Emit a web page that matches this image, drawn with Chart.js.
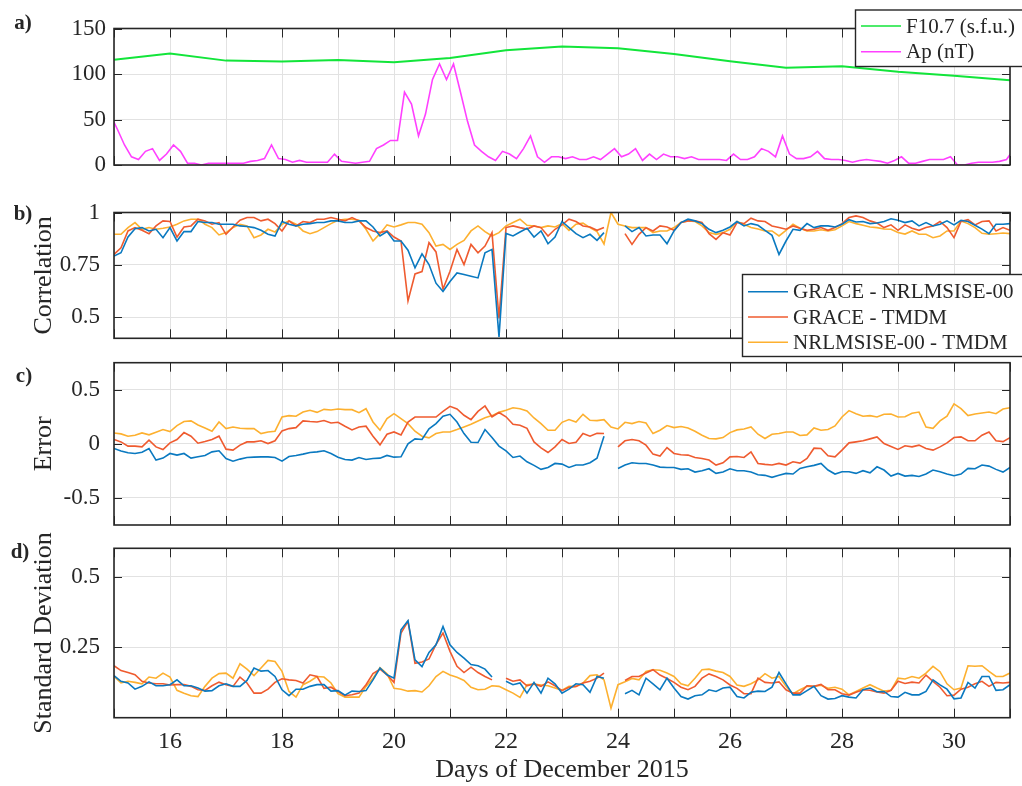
<!DOCTYPE html>
<html>
<head>
<meta charset="utf-8">
<title>Thermospheric density comparison, December 2015</title>
<script src="https://cdn.jsdelivr.net/npm/chart.js@4.4.1/dist/chart.umd.min.js"></script>
<style>
  html, body { margin: 0; padding: 0; background: #ffffff; }
  #wrap { position: relative; width: 1022px; height: 786px; overflow: hidden; background: #ffffff; }
  #wrap canvas { position: absolute; left: 0; top: 0; }
</style>
</head>
<body>
<div id="wrap">
  <canvas id="panelA" width="1022" height="786"></canvas>
  <canvas id="panelB" width="1022" height="786"></canvas>
  <canvas id="panelC" width="1022" height="786"></canvas>
  <canvas id="panelD" width="1022" height="786"></canvas>
</div>
<script>
// ---------- data ----------
// Daily solar flux F10.7 (s.f.u.), one value per day 15..31
const f107Days = [15, 16, 17, 18, 19, 20, 21, 22, 23, 24, 25, 26, 27, 28, 29, 30, 31];
const f107Values = [115.6, 122.4, 114.7, 113.6, 115.4, 112.9, 117.6, 126.1, 130.1, 128.3, 122.1, 114.0, 107.0, 108.5, 102.6, 98.2, 93.0];

// 3-hourly Ap index (nT), first sample at 14.9375 then every 1/8 day
const apStart = 14.9375;
const apValues = [
  55, 39, 22, 9, 6, 15, 18, 5, 12, 22,
  15, 2, 2, 0, 2, 2, 2, 2, 2, 2,
  4, 5, 7, 22, 7, 6, 3, 5, 3, 3,
  3, 3, 12, 4, 3, 2, 3, 4, 18, 22,
  27, 27, 80, 67, 32, 56, 94, 111, 94, 111,
  80, 48, 22, 15, 9, 5, 15, 12, 7, 18,
  32, 9, 3, 9, 9, 7, 9, 6, 6, 9,
  6, 12, 18, 9, 12, 18, 5, 12, 6, 12,
  9, 9, 7, 9, 6, 6, 6, 6, 5, 12,
  6, 6, 9, 18, 15, 9, 32, 12, 7, 7,
  9, 15, 7, 6, 6, 5, 3, 5, 6, 5,
  4, 2, 5, 9, 2, 2, 4, 6, 6, 6,
  9, 0, 0, 2, 3, 3, 3, 4, 6, 17
];

// Comparison series share one time base: day 15.0 to 31.0 every 1/8 day (129 samples)
const seriesStart = 15;
const seriesStep = 1 / 8;

// b) Correlation
const corrGraceNrl = [
  0.792, 0.808, 0.883, 0.923, 0.928, 0.912, 0.92, 0.88, 0.928, 0.864,
  0.909, 0.909, 0.957, 0.952, 0.952, 0.944, 0.944, 0.944, 0.936, 0.933,
  0.928, 0.915, 0.896, 0.888, 0.957, 0.944, 0.936, 0.944, 0.947, 0.952,
  0.952, 0.96, 0.96, 0.952, 0.952, 0.96, 0.96, 0.931, 0.888, 0.909,
  0.864, 0.864, 0.82, 0.736, 0.803, 0.752, 0.663, 0.623, 0.671, 0.712,
  0.704, 0.696, 0.688, 0.808, 0.824, 0.407, 0.90, 0.888, 0.907, 0.925,
  0.883, 0.912, 0.851, 0.883, 0.957, 0.928, 0.899, 0.88, 0.896, 0.867,
  0.904, null, null, 0.936, 0.909, 0.928, 0.888, 0.893, 0.893, 0.851,
  0.912, 0.952, 0.968, 0.96, 0.947, 0.92, 0.904, 0.915, 0.931, 0.957,
  0.936, 0.947, 0.939, 0.915, 0.891, 0.80, 0.864, 0.92, 0.915, 0.947,
  0.928, 0.936, 0.936, 0.931, 0.944, 0.966, 0.955, 0.957, 0.947, 0.95,
  0.957, 0.97, 0.963, 0.952, 0.96, 0.936, 0.952, 0.936, 0.944, 0.96,
  0.941, 0.963, 0.957, 0.939, 0.921, 0.899, 0.944, 0.944, 0.947
];
const corrGraceTmdm = [
  0.80, 0.832, 0.912, 0.928, 0.915, 0.899, 0.936, 0.96, 0.957, 0.883,
  0.931, 0.936, 0.968, 0.96, 0.944, 0.952, 0.896, 0.931, 0.963, 0.976,
  0.976, 0.96, 0.968, 0.947, 0.912, 0.96, 0.936, 0.957, 0.952, 0.968,
  0.968, 0.976, 0.968, 0.96, 0.976, 0.96, 0.928, 0.912, 0.904, 0.912,
  0.883, 0.864, 0.578, 0.707, 0.718, 0.856, 0.812, 0.635, 0.72, 0.824,
  0.752, 0.848, 0.808, 0.84, 0.904, 0.495, 0.928, 0.936, 0.928, 0.921,
  0.936, 0.928, 0.888, 0.92, 0.941, 0.968, 0.957, 0.936, 0.931, 0.915,
  0.928, null, null, 0.899, 0.848, 0.896, 0.928, 0.912, 0.936, 0.931,
  0.915, 0.952, 0.96, 0.96, 0.952, 0.899, 0.872, 0.904, 0.893, 0.952,
  0.947, 0.973, 0.96, 0.957, 0.936, 0.928, 0.92, 0.936, 0.925, 0.915,
  0.92, 0.928, 0.915, 0.928, 0.947, 0.976, 0.984, 0.976, 0.96, 0.95,
  0.928, 0.941, 0.915, 0.941, 0.925, 0.915, 0.928, 0.936, 0.957, 0.928,
  0.88, 0.957, 0.966, 0.941, 0.957, 0.96, 0.912, 0.928, 0.915
];
const corrNrlTmdm = [
  0.896, 0.896, 0.928, 0.952, 0.92, 0.928, 0.92, 0.925, 0.931, 0.944,
  0.96, 0.968, 0.968, 0.944, 0.928, 0.893, 0.904, 0.928, 0.944, 0.936,
  0.88, 0.893, 0.92, 0.907, 0.944, 0.96, 0.944, 0.912, 0.899, 0.909,
  0.928, 0.947, 0.963, 0.968, 0.968, 0.963, 0.92, 0.864, 0.899, 0.941,
  0.931, 0.941, 0.952, 0.952, 0.944, 0.904, 0.84, 0.848, 0.824, 0.848,
  0.867, 0.912, 0.936, 0.909, 0.888, 0.904, 0.936, 0.952, 0.968, 0.939,
  0.936, 0.928, 0.936, 0.931, 0.947, 0.915, 0.944, 0.949, 0.928, 0.909,
  0.85, 1.0, 0.944, 0.936, 0.928, 0.928, 0.928, 0.904, 0.912, 0.912,
  0.928, 0.952, 0.96, 0.957, 0.936, 0.904, 0.896, 0.904, 0.92, 0.957,
  0.944, 0.928, 0.921, 0.912, 0.912, 0.888, 0.915, 0.944, 0.925, 0.912,
  0.912, 0.918, 0.912, 0.918, 0.936, 0.957, 0.947, 0.939, 0.931, 0.928,
  0.921, 0.92, 0.905, 0.897, 0.912, 0.896, 0.896, 0.88, 0.888, 0.912,
  0.912, 0.96, 0.947, 0.928, 0.901, 0.896, 0.899, 0.902, 0.899
];

// c) Error
const errGraceNrl = [
  -0.043, -0.067, -0.083, -0.089, -0.077, -0.043, -0.15, -0.132, -0.089, -0.104,
  -0.089, -0.132, -0.12, -0.107, -0.074, -0.064, -0.135, -0.16, -0.141, -0.126,
  -0.123, -0.12, -0.12, -0.126, -0.16, -0.117, -0.107, -0.095, -0.08, -0.074,
  -0.064, -0.089, -0.123, -0.144, -0.15, -0.126, -0.144, -0.135, -0.132, -0.107,
  -0.123, -0.12, 0.0, 0.046, 0.04, 0.138, 0.187, 0.255, 0.273, 0.202,
  0.095, 0.015, 0.012, 0.132, 0.058, -0.021, -0.065, -0.126, -0.113, -0.166,
  -0.199, -0.236, -0.218, -0.181, -0.187, -0.218, -0.196, -0.196, -0.175, -0.132,
  0.07, null, -0.227, -0.196, -0.175, -0.181, -0.181, -0.196, -0.215, -0.218,
  -0.218, -0.236, -0.23, -0.261, -0.248, -0.23, -0.273, -0.261, -0.23, -0.248,
  -0.248, -0.261, -0.285, -0.291, -0.31, -0.291, -0.273, -0.279, -0.227, -0.212,
  -0.199, -0.181, -0.242, -0.279, -0.258, -0.258, -0.273, -0.248, -0.267, -0.212,
  -0.242, -0.298, -0.273, -0.298, -0.291, -0.301, -0.279, -0.242, -0.258, -0.279,
  -0.294, -0.279, -0.227, -0.23, -0.196, -0.206, -0.236, -0.261, -0.218
];
const errGraceTmdm = [
  0.04, 0.018, -0.021, -0.021, -0.028, 0.034, -0.028, -0.052, 0.009, 0.04,
  0.104, 0.071, 0.006, 0.021, 0.04, 0.071, -0.049, -0.058, -0.012, 0.018,
  0.018, 0.028, 0.003, 0.028, 0.12, 0.141, 0.15, 0.212, 0.206, 0.202,
  0.215, 0.193, 0.199, 0.163, 0.129, 0.156, 0.163, 0.071, -0.009, 0.089,
  0.11, 0.083, 0.202, 0.248, 0.248, 0.248, 0.248, 0.30, 0.347, 0.322,
  0.264, 0.224, 0.30, 0.35, 0.25, 0.29, 0.25, 0.181, 0.172, 0.144,
  0.018, -0.037, -0.08, -0.028, 0.04, 0.003, 0.015, 0.095, 0.071, 0.098,
  0.095, null, -0.028, 0.028, 0.04, 0.028, -0.012, -0.095, -0.113, -0.034,
  -0.089, -0.101, -0.104, -0.126, -0.135, -0.15, -0.196, -0.175, -0.12, -0.117,
  -0.126, -0.074, -0.181, -0.19, -0.196, -0.181, -0.196, -0.166, -0.178, -0.135,
  -0.04, -0.043, -0.11, -0.12, -0.058, 0.009, 0.018, 0.028, 0.046, 0.064,
  0.003, -0.025, -0.052, -0.018, -0.028, -0.012, -0.043, -0.058, -0.028, 0.009,
  0.058, 0.064, 0.028, 0.028, 0.08, 0.11, 0.028, 0.021, 0.058
];
const errNrlTmdm = [
  0.101, 0.092, 0.071, 0.08, 0.101, 0.083, 0.107, 0.132, 0.113, 0.169,
  0.206, 0.212, 0.175, 0.147, 0.117, 0.202, 0.141, 0.156, 0.144, 0.141,
  0.141, 0.095, 0.11, 0.117, 0.248, 0.261, 0.255, 0.294, 0.31, 0.291,
  0.319, 0.313, 0.322, 0.316, 0.316, 0.288, 0.325, 0.202, 0.126, 0.233,
  0.279, 0.233, 0.187, 0.117, 0.071, 0.055, 0.095, 0.11, 0.11, 0.132,
  0.156, 0.181, 0.212, 0.242, 0.261, 0.291, 0.31, 0.334, 0.325, 0.304,
  0.239, 0.187, 0.126, 0.126, 0.199, 0.224, 0.202, 0.273, 0.218, 0.215,
  0.224, 0.156, 0.138, 0.199, 0.187, 0.206, 0.193, 0.095, 0.126, 0.169,
  0.15, 0.16, 0.147, 0.117, 0.08, 0.049, 0.046, 0.058, 0.104, 0.129,
  0.138, 0.156, 0.089, 0.049, 0.089, 0.095, 0.11, 0.11, 0.077, 0.083,
  0.147, 0.126, 0.132, 0.166, 0.248, 0.307, 0.279, 0.255, 0.261, 0.248,
  0.273, 0.276, 0.248, 0.251, 0.282, 0.294, 0.156, 0.144, 0.212, 0.255,
  0.37, 0.325, 0.261, 0.276, 0.285, 0.294, 0.279, 0.322, 0.334
];

// d) Standard deviation
const sdGraceNrl = [
  0.149, 0.129, 0.123, 0.101, 0.111, 0.127, 0.113, 0.113, 0.117, 0.134,
  0.113, 0.113, 0.105, 0.094, 0.096, 0.113, 0.12, 0.111, 0.111, 0.132,
  0.176, 0.165, 0.167, 0.146, 0.099, 0.078, 0.101, 0.101, 0.111, 0.117,
  0.117, 0.094, 0.096, 0.08, 0.094, 0.093, 0.096, 0.134, 0.176, 0.152,
  0.14, 0.311, 0.344, 0.205, 0.181, 0.231, 0.258, 0.323, 0.258, 0.231,
  0.211, 0.188, 0.184, 0.172, 0.144, null, 0.129, 0.117, 0.123, 0.087,
  0.125, 0.087, 0.14, 0.12, 0.087, 0.101, 0.12, 0.117, 0.09, 0.146,
  0.14, null, null, 0.085, 0.097, 0.081, 0.14, 0.12, 0.099, 0.14,
  0.105, 0.075, 0.066, 0.078, 0.081, 0.099, 0.093, 0.105, 0.108, 0.075,
  0.07, 0.09, 0.094, 0.093, 0.108, 0.16, 0.12, 0.081, 0.081, 0.096,
  0.111, 0.078, 0.066, 0.068, 0.078, 0.073, 0.07, 0.099, 0.105, 0.092,
  0.093, 0.075, 0.073, 0.09, 0.081, 0.081, 0.093, 0.134, 0.116, 0.101,
  0.067, 0.07, 0.125, 0.105, 0.146, 0.146, 0.097, 0.099, 0.117
];
const sdGraceTmdm = [
  0.184, 0.167, 0.16, 0.152, 0.129, 0.123, 0.12, 0.12, 0.116, 0.117,
  0.117, 0.111, 0.099, 0.097, 0.113, 0.126, 0.117, 0.111, 0.144, 0.123,
  0.087, 0.087, 0.101, 0.125, 0.138, 0.134, 0.132, 0.123, 0.152, 0.146,
  0.104, 0.108, 0.093, 0.078, 0.081, 0.087, 0.117, 0.156, 0.172, 0.152,
  0.125, 0.30, 0.341, 0.193, 0.197, 0.208, 0.26, 0.30, 0.235, 0.182,
  0.16, 0.179, 0.16, 0.146, 0.134, null, 0.14, 0.129, 0.134, 0.113,
  0.12, 0.111, 0.127, 0.113, 0.096, 0.108, 0.111, 0.123, 0.129, 0.14,
  0.158, null, null, 0.132, 0.146, 0.146, 0.158, 0.17, 0.151, 0.139,
  0.125, 0.108, 0.099, 0.111, 0.14, 0.155, 0.146, 0.134, 0.116, 0.104,
  0.085, 0.085, 0.14, 0.125, 0.123, 0.127, 0.099, 0.087, 0.087, 0.113,
  0.111, 0.118, 0.099, 0.099, 0.085, 0.08, 0.09, 0.099, 0.097, 0.091,
  0.087, 0.097, 0.129, 0.121, 0.126, 0.123, 0.151, 0.129, 0.108, 0.078,
  0.08, 0.101, 0.108, 0.12, 0.129, 0.111, 0.125, 0.123, 0.125
];
const sdNrlTmdm = [
  0.146, 0.123, 0.129, 0.125, 0.12, 0.144, 0.14, 0.158, 0.144, 0.097,
  0.087, 0.078, 0.075, 0.111, 0.14, 0.156, 0.158, 0.14, 0.191, 0.172,
  0.149, 0.176, 0.203, 0.199, 0.164, 0.093, 0.073, 0.117, 0.129, 0.146,
  0.144, 0.123, 0.085, 0.073, 0.073, 0.073, 0.111, 0.14, 0.177, 0.156,
  0.104, 0.101, 0.094, 0.096, 0.091, 0.113, 0.146, 0.164, 0.151, 0.143,
  0.132, 0.108, 0.099, 0.101, 0.113, 0.111, 0.099, 0.087, 0.072, 0.117,
  0.119, 0.116, 0.113, 0.105, 0.097, 0.111, 0.111, 0.123, 0.149, 0.152,
  0.134, 0.034, 0.117, 0.127, 0.139, 0.134, 0.164, 0.17, 0.168, 0.158,
  0.146, 0.12, 0.113, 0.14, 0.17, 0.172, 0.165, 0.16, 0.146, 0.116,
  0.111, 0.12, 0.134, 0.156, 0.14, 0.146, 0.111, 0.085, 0.099, 0.111,
  0.111, 0.115, 0.104, 0.108, 0.101, 0.081, 0.093, 0.105, 0.117, 0.105,
  0.094, 0.097, 0.14, 0.137, 0.146, 0.14, 0.158, 0.182, 0.163, 0.12,
  0.099, 0.105, 0.184, 0.182, 0.184, 0.164, 0.146, 0.146, 0.158
];

// Axis ticks and labels
const dayTicks = [15, 16, 17, 18, 19, 20, 21, 22, 23, 24, 25, 26, 27, 28, 29, 30, 31];
const dayLabels = [16, 18, 20, 22, 24, 26, 28, 30];
const ticksA = [0, 50, 100, 150];
const ticksB = [0.5, 0.75, 1];
const ticksC = [-0.5, 0, 0.5];
const ticksD = [0.25, 0.5];

// ---------- styling ----------
const FONT = "'Liberation Serif', 'Times New Roman', Times, serif";
const INK = '#262626';
const GRID = '#e2e2e2';
const W = 1022, H = 786;
const PLOT_LEFT = 114, PLOT_RIGHT = 1010;
const COL = {
  blue: '#0a79c0',
  red: '#ef5b2f',
  yellow: '#fdb02f',
  green: '#12e53a',
  magenta: '#ff40ff'
};

Chart.defaults.font.family = FONT;
Chart.defaults.color = INK;

const apDays = apValues.map((_, i) => apStart + i / 8);
const seriesDays = corrGraceNrl.map((_, i) => seriesStart + i * seriesStep);

// Frame, inward tick marks, panel letter and boxed legend
const panelFrame = {
  id: 'panelFrame',
  afterDatasetsDraw(chart, args, o) {
    const { ctx, chartArea: a, scales: { x, y } } = chart;
    ctx.save();
    ctx.strokeStyle = INK;
    ctx.lineWidth = 1;
    ctx.beginPath();
    x.ticks.forEach(t => {
      const px = Math.round(x.getPixelForValue(t.value)) + 0.5;
      ctx.moveTo(px, a.top); ctx.lineTo(px, a.top + o.xTickLen);
      ctx.moveTo(px, a.bottom); ctx.lineTo(px, a.bottom - o.xTickLen);
    });
    y.ticks.forEach(t => {
      const py = Math.round(y.getPixelForValue(t.value)) + 0.5;
      ctx.moveTo(a.left, py); ctx.lineTo(a.left + o.yTickLen, py);
      ctx.moveTo(a.right, py); ctx.lineTo(a.right - o.yTickLen, py);
    });
    ctx.stroke();

    ctx.lineWidth = 1.6;
    ctx.strokeRect(a.left, a.top, a.right - a.left, a.bottom - a.top);

    // panel letter
    ctx.fillStyle = INK;
    ctx.font = 'bold 21px ' + FONT;
    ctx.textAlign = 'center';
    ctx.textBaseline = 'middle';
    ctx.fillText(o.letter, o.letterX, o.letterY);

    // legend
    if (o.legend) {
      const L = o.legend;
      const n = chart.data.datasets.length;
      ctx.fillStyle = '#ffffff';
      ctx.fillRect(L.left, L.top, L.width, L.height);
      ctx.lineWidth = 1.4;
      ctx.strokeStyle = INK;
      ctx.strokeRect(L.left + 0.5, L.top + 0.5, L.width, L.height);
      ctx.font = '21px ' + FONT;
      ctx.textAlign = 'left';
      ctx.textBaseline = 'middle';
      for (let i = 0; i < n; i++) {
        const ds = chart.data.datasets[i];
        const ry = L.top + L.firstRow + i * L.rowGap;
        ctx.strokeStyle = ds.borderColor;
        ctx.lineWidth = 1.4;
        ctx.beginPath();
        ctx.moveTo(L.left + 6, ry);
        ctx.lineTo(L.left + 46, ry);
        ctx.stroke();
        ctx.fillStyle = INK;
        ctx.fillText(ds.label, L.left + 51, ry + 1);
      }
    }
    ctx.restore();
  }
};

function buildPanel(canvasId, spec) {
  const [top, bottom] = spec.box;
  const isBottom = !!spec.xTitle;
  const datasets = spec.series.map(s => ({
    label: s.label,
    data: s.days.map((d, i) => ({ x: d, y: s.values[i] })),
    borderColor: s.color,
    backgroundColor: s.color,
    borderWidth: s.width || 1.6,
    pointRadius: 0,
    tension: 0,
    spanGaps: false,
    fill: false
  }));
  return new Chart(document.getElementById(canvasId), {
    type: 'line',
    data: { datasets },
    options: {
      responsive: false,
      animation: false,
      events: [],
      devicePixelRatio: 1,
      layout: { padding: { top: top, bottom: isBottom ? 0 : H - bottom, left: 0, right: W - PLOT_RIGHT } },
      plugins: {
        legend: { display: false },
        tooltip: { enabled: false },
        panelFrame: {
          letter: spec.letter, letterX: spec.letterPos[0], letterY: spec.letterPos[1],
          xTickLen: 9, yTickLen: 8, legend: spec.legend || null
        }
      },
      scales: {
        x: {
          type: 'linear',
          min: dayTicks[0],
          max: dayTicks[dayTicks.length - 1],
          afterBuildTicks: s => { s.ticks = dayTicks.map(v => ({ value: v })); },
          afterFit: s => { s.height = isBottom ? H - bottom : 0; },
          grid: { color: GRID, lineWidth: 1, drawTicks: false },
          border: { display: false },
          ticks: {
            display: isBottom,
            autoSkip: false,
            maxRotation: 0,
            padding: 10,
            color: INK,
            font: { size: 24 },
            callback: v => (dayLabels.includes(v) ? String(v) : '')
          },
          title: {
            display: isBottom,
            text: spec.xTitle || '',
            color: INK,
            font: { size: 26 },
            padding: { top: 0, bottom: 0 }
          }
        },
        y: {
          type: 'linear',
          position: 'left',
          min: spec.yRange[0],
          max: spec.yRange[1],
          afterBuildTicks: s => { s.ticks = spec.yTicks.map(v => ({ value: v })); },
          afterFit: s => { s.width = PLOT_LEFT; },
          grid: { color: GRID, lineWidth: 1, drawTicks: false },
          border: { display: false },
          ticks: {
            padding: spec.yTickPad,
            color: INK,
            font: { size: 23 },
            callback: v => String(v)
          },
          title: {
            display: !!spec.yTitle,
            text: spec.yTitle || '',
            color: INK,
            font: { size: 26 },
            padding: { top: 29, bottom: 0 }
          }
        }
      }
    },
    plugins: [panelFrame]
  });
}

const pairLabels = ['GRACE - NRLMSISE-00', 'GRACE - TMDM', 'NRLMSISE-00 - TMDM'];
const pairColors = [COL.blue, COL.red, COL.yellow];

buildPanel('panelA', {
  box: [28.5, 165], letter: 'a)', letterPos: [23, 24],
  yRange: [0, 150], yTicks: ticksA, yTickPad: 8,
  series: [
    { label: 'F10.7 (s.f.u.)', days: f107Days, values: f107Values, color: COL.green, width: 2 },
    { label: 'Ap (nT)', days: apDays, values: apValues, color: COL.magenta, width: 1.6 }
  ],
  legend: { left: 855, top: 9.5, width: 180, height: 56.5, firstRow: 16.5, rowGap: 25.7 }
});

buildPanel('panelB', {
  box: [212.5, 338.3], letter: 'b)', letterPos: [23, 215],
  yRange: [0.4, 1], yTicks: ticksB, yTickPad: 14, yTitle: 'Correlation',
  series: pairLabels.map((l, i) => ({ label: l, days: seriesDays, values: [corrGraceNrl, corrGraceTmdm, corrNrlTmdm][i], color: pairColors[i] })),
  legend: { left: 742, top: 274, width: 300, height: 82, firstRow: 17.7, rowGap: 25.3 }
});

buildPanel('panelC', {
  box: [362.7, 525], letter: 'c)', letterPos: [24, 377],
  yRange: [-0.75, 0.75], yTicks: ticksC, yTickPad: 14, yTitle: 'Error',
  series: pairLabels.map((l, i) => ({ label: l, days: seriesDays, values: [errGraceNrl, errGraceTmdm, errNrlTmdm][i], color: pairColors[i] }))
});

buildPanel('panelD', {
  box: [548.3, 717.7], letter: 'd)', letterPos: [20, 553],
  yRange: [0, 0.6], yTicks: ticksD, yTickPad: 14, yTitle: 'Standard Deviation',
  xTitle: 'Days of December 2015',
  series: pairLabels.map((l, i) => ({ label: l, days: seriesDays, values: [sdGraceNrl, sdGraceTmdm, sdNrlTmdm][i], color: pairColors[i] }))
});
</script>
</body>
</html>
